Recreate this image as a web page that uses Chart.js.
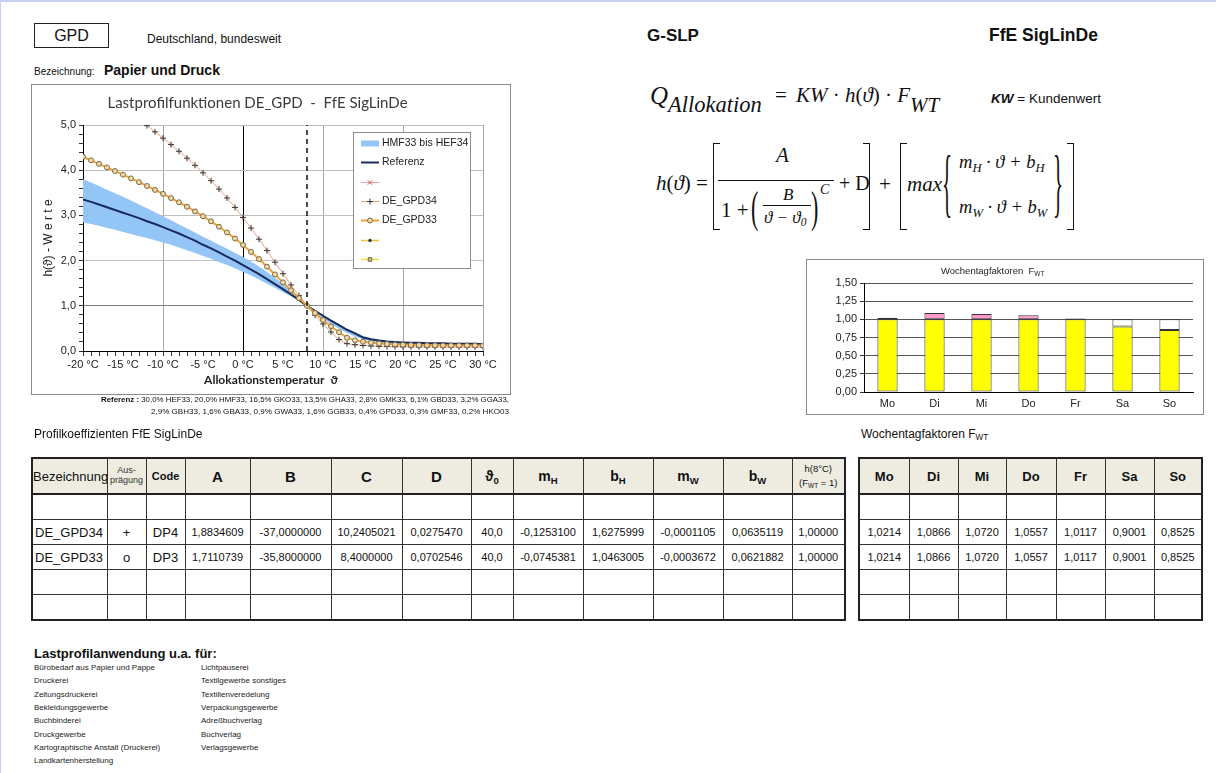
<!DOCTYPE html>
<html lang="de"><head><meta charset="utf-8">
<script src="https://cdn.jsdelivr.net/npm/chart.js@4.4.1/dist/chart.umd.min.js"></script>
<style>
html,body{margin:0;padding:0;background:#fff;}
#page{position:relative;width:1216px;height:773px;overflow:hidden;font-family:'Liberation Sans',Arial,sans-serif;color:#111;box-sizing:border-box;border-top:2px solid #c9d1f2;border-left:1px solid #c9d1f2;}
.t{position:absolute;white-space:nowrap;line-height:1;}
.serif{font-family:'Liberation Serif','Times New Roman',serif;}
.brk{position:absolute;border:1.4px solid #111;box-sizing:border-box;}
sub{font-size:68%;vertical-align:-0.3em;line-height:0;}
table.tb{position:absolute;border-collapse:collapse;table-layout:fixed;border:2px solid #222;}
table.tb td,table.tb th{border:1px solid #333;padding:0;text-align:center;overflow:hidden;white-space:nowrap;color:#111;}
table.tb th{background:#EEECE1;height:34px;border-bottom:2px solid #222;}
table.tb td{height:24px;font-size:11px;}
canvas{position:absolute;}
.box{position:absolute;border:1px solid #8a8a8a;box-sizing:border-box;background:#fff;}
</style></head>
<body><div id="page">

<div class="t" style="left:33px;top:21px;width:75px;height:25px;border:1px solid #222;box-sizing:border-box;font-size:16px;text-align:center;line-height:23px;">GPD</div>
<div class="t" style="left:146px;top:31px;font-size:12px;">Deutschland, bundesweit</div>
<div class="t" style="left:33px;top:65px;font-size:10px;">Bezeichnung:</div>
<div class="t" style="left:103px;top:61px;font-size:14px;font-weight:bold;">Papier und Druck</div>

<div class="t" style="left:646px;top:25px;font-size:17px;font-weight:bold;">G-SLP</div>
<div class="t" style="left:988px;top:25px;font-size:17.5px;font-weight:bold;">FfE SigLinDe</div>

<!-- Q formula -->
<div class="t serif" style="left:649px;top:81px;font-size:25px;font-style:italic;">Q</div>
<div class="t serif" style="left:667px;top:92px;font-size:22.5px;font-style:italic;">Allokation</div>
<div class="t serif" style="left:774px;top:83px;font-size:21px;">=</div>
<div class="t serif" style="left:795px;top:83px;font-size:21px;"><i>KW</i> · <i>h</i>(<i>ϑ</i>) · <i>F</i></div>
<div class="t serif" style="left:909px;top:93px;font-size:21px;font-style:italic;">WT</div>
<div class="t" style="left:990px;top:90px;font-size:13.5px;"><b><i>KW</i></b> = Kundenwert</div>

<!-- h formula -->
<div class="t serif" style="left:655px;top:171px;font-size:21px;"><i>h</i>(<i>ϑ</i>) =</div>
<div class="brk" style="left:712px;top:141px;width:7px;height:87px;border-right:none;"></div>
<div class="t serif" style="left:775px;top:143px;font-size:21px;font-style:italic;">A</div>
<div style="position:absolute;left:717px;top:178px;width:116px;border-top:1.2px solid #111;"></div>
<div class="t serif" style="left:720px;top:198px;font-size:21px;">1 +</div>
<div class="t serif" style="left:750px;top:195px;font-size:22px;transform:scaleY(2);transform-origin:left center;">(</div>
<div class="t serif" style="left:782px;top:184px;font-size:17px;font-style:italic;">B</div>
<div style="position:absolute;left:762px;top:203px;width:48px;border-top:1px solid #111;"></div>
<div class="t serif" style="left:763px;top:207px;font-size:17px;font-style:italic;">ϑ − ϑ<sub>0</sub></div>
<div class="t serif" style="left:810px;top:195px;font-size:22px;transform:scaleY(2);transform-origin:left center;">)</div>
<div class="t serif" style="left:819px;top:181px;font-size:14px;font-style:italic;">C</div>
<div class="t serif" style="left:838px;top:171px;font-size:20px;">+ D</div>
<div class="brk" style="left:862px;top:141px;width:7px;height:87px;border-left:none;"></div>
<div class="t serif" style="left:878px;top:172px;font-size:21px;">+</div>
<div class="brk" style="left:899px;top:141px;width:7px;height:87px;border-right:none;"></div>
<div class="t serif" style="left:906px;top:172px;font-size:21px;font-style:italic;">max</div>
<div class="t serif" style="left:941px;top:172px;font-size:21px;transform:scaleY(3.6);transform-origin:left center;">{</div>
<div class="t serif" style="left:958px;top:151px;font-size:18.5px;font-style:italic;">m<sub>H</sub> · ϑ + b<sub>H</sub></div>
<div class="t serif" style="left:958px;top:196px;font-size:18.5px;font-style:italic;">m<sub>W</sub> · ϑ + b<sub>W</sub></div>
<div class="t serif" style="left:1052px;top:172px;font-size:21px;transform:scaleY(3.6);transform-origin:left center;">}</div>
<div class="brk" style="left:1066px;top:141px;width:7px;height:87px;border-left:none;"></div>

<!-- main chart -->
<div class="box" style="left:30px;top:82px;width:480px;height:311px;"></div>
<canvas id="c1" width="478" height="309" style="left:31px;top:83px;"></canvas>
<div class="t" style="left:30px;width:480px;text-align:center;top:372px;font-family:Lato,sans-serif;font-size:12px;font-weight:bold;color:#222;">Allokationstemperatur&nbsp;&nbsp;ϑ</div>

<div class="t" id="ref1" style="left:100px;top:394px;font-size:8px;"><b>Referenz :</b>&nbsp;30,0% HEF33, 20,0% HMF33, 16,5% GKO33, 13,5% GHA33, 2,8% GMK33, 6,1% GBD33, 3,2% GGA33,</div>
<div class="t" id="ref2" style="left:150px;top:406px;font-size:8px;">2,9% GBH33, 1,6% GBA33, 0,9% GWA33, 1,6% GGB33, 0,4% GPD33, 0,3% GMF33, 0,2% HKO03</div>

<!-- bar chart -->
<div class="box" style="left:805px;top:257px;width:398px;height:156px;"></div>
<canvas id="c2" width="396" height="154" style="left:806px;top:258px;"></canvas>
<div class="t" style="left:940px;top:264px;font-size:9.5px;color:#222;">Wochentagfaktoren&nbsp;&nbsp;F<sub>WT</sub></div>

<div class="t" style="left:33px;top:426px;font-size:12px;">Profilkoeffizienten FfE SigLinDe</div>
<div class="t" style="left:860px;top:426px;font-size:12px;">Wochentagfaktoren F<sub>WT</sub></div>

<table class="tb" id="tbl1" style="left:30px;top:455px;width:813px;"></table>
<table class="tb" id="tbl2" style="left:857px;top:455px;width:343px;"></table>

<div class="t" style="left:33px;top:645px;font-size:13px;font-weight:bold;">Lastprofilanwendung u.a. für:</div>
<div id="list"></div>
</div>

<script>
// ---------------- data ----------------
const temps = [-20,-19,-18,-17,-16,-15,-14,-13,-12,-11,-10,-9,-8,-7,-6,-5,-4,-3,-2,-1,0,1,2,3,4,5,6,7,8,9,10,11,12,13,14,15,16,17,18,19,20,21,22,23,24,25,26,27,28,29,30];
const gpd34 = [6.032,5.904,5.776,5.647,5.517,5.386,5.255,5.121,4.986,4.849,4.709,4.566,4.419,4.266,4.108,3.942,3.767,3.582,3.385,3.177,2.954,2.720,2.474,2.221,1.964,1.709,1.461,1.224,1.000,0.792,0.599,0.420,0.254,0.162,0.139,0.123,0.112,0.104,0.098,0.095,0.092,0.091,0.090,0.089,0.089,0.089,0.088,0.088,0.088,0.088,0.088];
const gpd33 = [4.296,4.219,4.140,4.061,3.981,3.901,3.819,3.736,3.651,3.564,3.476,3.384,3.290,3.192,3.089,2.982,2.869,2.749,2.622,2.488,2.345,2.193,2.033,1.866,1.694,1.519,1.343,1.169,1.000,0.839,0.687,0.546,0.415,0.294,0.236,0.207,0.184,0.167,0.154,0.145,0.138,0.133,0.130,0.127,0.126,0.124,0.124,0.123,0.122,0.122,0.122];
const referenz = [3.35,3.30,3.24,3.18,3.12,3.06,3.00,2.94,2.87,2.81,2.74,2.67,2.60,2.52,2.44,2.35,2.27,2.18,2.09,2.00,1.90,1.80,1.70,1.59,1.48,1.37,1.25,1.13,1.00,0.89,0.78,0.67,0.57,0.47,0.39,0.30,0.26,0.23,0.21,0.20,0.19,0.18,0.18,0.17,0.17,0.17,0.16,0.16,0.16,0.16,0.15];
const bandHigh = [3.80,3.73,3.65,3.57,3.49,3.41,3.33,3.24,3.16,3.07,2.98,2.89,2.80,2.71,2.62,2.53,2.44,2.35,2.26,2.17,2.08,1.98,1.87,1.75,1.62,1.49,1.35,1.18,1.00,0.90,0.80,0.69,0.59,0.49,0.41,0.33,0.28,0.24,0.22,0.20,0.19,0.18,0.18,0.17,0.17,0.17,0.17,0.16,0.16,0.16,0.16];
const bandLow = [2.85,2.81,2.77,2.72,2.68,2.63,2.59,2.54,2.50,2.45,2.40,2.35,2.29,2.23,2.17,2.10,2.04,1.97,1.90,1.83,1.75,1.67,1.58,1.49,1.40,1.30,1.21,1.11,1.00,0.85,0.72,0.60,0.49,0.40,0.32,0.26,0.21,0.18,0.16,0.15,0.14,0.14,0.13,0.13,0.13,0.13,0.12,0.12,0.12,0.12,0.12];
const markerTemp = [8, 8];
const markerH = [0, 5];
const days = ['Mo','Di','Mi','Do','Fr','Sa','So'];
const fwt = [1.0214, 1.0866, 1.0720, 1.0557, 1.0117, 0.9001, 0.8525];

const coefHeader = ['Bezeichnung','Aus-<br>prägung','Code','A','B','C','D','ϑ<sub>0</sub>','m<sub>H</sub>','b<sub>H</sub>','m<sub>W</sub>','b<sub>W</sub>','h(8°C)<br>(F<sub>WT</sub> = 1)'];
const coefRows = [
  ['','','','','','','','','','','','',''],
  ['DE_GPD34','+','DP4','1,8834609','-37,0000000','10,2405021','0,0275470','40,0','-0,1253100','1,6275999','-0,0001105','0,0635119','1,00000'],
  ['DE_GPD33','o','DP3','1,7110739','-35,8000000','8,4000000','0,0702546','40,0','-0,0745381','1,0463005','-0,0003672','0,0621882','1,00000'],
  ['','','','','','','','','','','','',''],
  ['','','','','','','','','','','','','']
];
const useList1 = ['Bürobedarf aus Papier und Pappe','Druckerei','Zeitungsdruckerei','Bekleidungsgewerbe','Buchbinderei','Druckgewerbe','Kartographische Anstalt (Druckerei)','Landkartenherstellung'];
const useList2 = ['Lichtpauserei','Textilgewerbe sonstiges','Textilienveredelung','Verpackungsgewerbe','Adreßbuchverlag','Buchverlag','Verlagsgewerbe'];

// ---------------- tables ----------------
(function(){
  const w1 = [75,39,39,65,81,71,69,42,70,70,70,69,53];
  const hdrStyle = ['font-size:13px;font-weight:normal;','font-size:9px;font-weight:normal;line-height:1.1;color:#333;','font-size:11px;','font-size:15px;','font-size:15px;','font-size:15px;','font-size:15px;','font-size:14px;','font-size:14px;','font-size:14px;','font-size:14px;','font-size:14px;','font-size:9.5px;font-weight:normal;line-height:1.5;'];
  let h = '<colgroup>' + w1.map(w=>`<col style="width:${w}px">`).join('') + '</colgroup>';
  h += '<tr>' + coefHeader.map((c,i)=>`<th style="${hdrStyle[i]}">${c}</th>`).join('') + '</tr>';
  coefRows.forEach(r=>{
    h += '<tr>' + r.map((c,i)=>{
      let st = '';
      if (i===0) st='text-align:left;padding-left:2px;font-size:13px;';
      else if (i<3) st='font-size:13px;';
      return `<td style="${st}">${c}</td>`;
    }).join('') + '</tr>';
  });
  document.getElementById('tbl1').innerHTML = h;

  const fmt = v => v.toFixed(4).replace('.',',');
  let h2 = '<colgroup>' + [50,49,48,50,49,49,48].map(w=>`<col style="width:${w}px">`).join('') + '</colgroup>';
  h2 += '<tr>' + days.map(d=>`<th style="font-size:13px;">${d}</th>`).join('') + '</tr>';
  const rows2 = [null, fwt, fwt, null, null];
  rows2.forEach(r=>{ h2 += '<tr>' + days.map((d,i)=>`<td>${r? fmt(r[i]) : ''}</td>`).join('') + '</tr>'; });
  document.getElementById('tbl2').innerHTML = h2;

  let l = '';
  useList1.forEach((s,i)=>{ l += `<div class="t" style="left:33px;top:662px;transform:translateY(${i*13.3}px);font-size:8px;color:#222;">${s}</div>`; });
  useList2.forEach((s,i)=>{ l += `<div class="t" style="left:200px;top:662px;transform:translateY(${i*13.3}px);font-size:8px;color:#222;">${s}</div>`; });
  document.getElementById('list').innerHTML = l;

  function fit(id, w){ const el=document.getElementById(id); const r=el.getBoundingClientRect().width; el.style.transformOrigin='left center'; el.style.transform=`scaleX(${w/r})`; }
  fit('ref1', 408); fit('ref2', 358);
})();

// ---------------- charts ----------------
Chart.defaults.font.family = "'Liberation Sans', Arial, sans-serif";
Chart.defaults.color = '#222';
const pts = ys => temps.map((t,i)=>({x:t, y:ys[i]}));
const isInt = v => Math.abs(v - Math.round(v)) < 1e-6;

const boxLegend = {
  id: 'boxLegend',
  afterDraw(chart, args, opts) {
    const ctx = chart.ctx;
    const x0 = 321, y0 = 47, w = 117, h = 136;
    ctx.save();
    ctx.fillStyle = '#fff'; ctx.fillRect(x0, y0, w, h);
    ctx.strokeStyle = '#8c8c8c'; ctx.lineWidth = 1; ctx.strokeRect(x0 + 0.5, y0 + 0.5, w, h);
    opts.items.forEach((idx, i) => {
      const ds = chart.data.datasets[idx];
      const y = Math.round(y0 + 11 + i * 19.3) + 0.5;
      ctx.setLineDash([]);
      ctx.strokeStyle = ds.legendColor || ds.borderColor;
      ctx.lineWidth = ds.legendWidth || ds.borderWidth;
      ctx.beginPath(); ctx.moveTo(x0 + 8, y); ctx.lineTo(x0 + 26, y); ctx.stroke();
      if (ds.pointStyle && ds.pointRadius > 0) {
        ctx.strokeStyle = ds.pointBorderColor; ctx.fillStyle = ds.pointBackgroundColor || ds.pointBorderColor;
        ctx.lineWidth = ds.pointBorderWidth || 1;
        Chart.helpers.drawPoint(ctx, {pointStyle: ds.pointStyle, radius: ds.pointRadius, borderWidth: ds.pointBorderWidth || 1, rotation: 0}, x0 + 17, y);
      }
      if (ds.label) {
        ctx.fillStyle = '#222'; ctx.font = "10.5px 'Liberation Sans', Arial, sans-serif"; ctx.textBaseline = 'middle';
        ctx.fillText(ds.label, x0 + 29, y);
      }
    });
    ctx.restore();
  }
};

new Chart(document.getElementById('c1'), {
  type: 'line',
  data: { datasets: [
    {label:'', data: pts(bandLow), borderWidth:0, borderColor:'rgba(0,0,0,0)', pointRadius:0, fill:false, order:10},
    {label:'HMF33 bis HEF34', data: pts(bandHigh), borderWidth:0, borderColor:'rgba(0,0,0,0)', backgroundColor:'#93C6F6', legendColor:'#93C6F6', legendWidth:6, pointRadius:0, fill:'-1', order:10},
    {label:'Referenz', data: pts(referenz), borderColor:'#1B2A5E', borderWidth:2, pointRadius:0, fill:false, order:5, tension:0},
    {label:'', data: [], borderColor:'#E8A3A3', borderWidth:1, pointStyle:'crossRot', pointRadius:3, pointBorderColor:'#C0504D', pointBorderWidth:1, order:9},
    {label:'DE_GPD34', data: pts(gpd34), borderColor:'#EDA07E', borderWidth:1, pointStyle:'cross', pointRadius:3, pointBorderColor:'#333', pointBorderWidth:1, fill:false, order:3},
    {label:'DE_GPD33', data: pts(gpd33), borderColor:'#F2A12E', borderWidth:2, pointStyle:'circle', pointRadius:2.5, pointBorderColor:'#7a6a48', pointBackgroundColor:'#EFD7A4', pointBorderWidth:1, fill:false, order:2},
    {label:'', data: [], borderColor:'#F5C242', borderWidth:1.5, pointStyle:'circle', pointRadius:1.3, pointBorderColor:'#333', pointBackgroundColor:'#333', order:9},
    {label:'', data: [], borderColor:'#F7DC3C', borderWidth:1.5, pointStyle:'rect', pointRadius:2.5, pointBorderColor:'#6b6b4a', pointBackgroundColor:'#c9c37a', order:9},
    {label:'', data: markerTemp.map((t,i)=>({x:t, y:markerH[i]})), borderColor:'#111', borderWidth:1.5, borderDash:[5,4], pointRadius:0, order:1}
  ]},
  options: {
    responsive:false, animation:false, devicePixelRatio:1, events:[],
    layout:{padding:{top:0,right:27,bottom:0,left:0}},
    plugins:{
      legend:{display:false}, tooltip:{enabled:false},
      title:{display:true, text:'Lastprofilfunktionen DE_GPD  -  FfE SigLinDe', color:'#3a3a3a', font:{family:'Lato', size:15, weight:'normal'}, padding:{top:9,bottom:13}},
      boxLegend:{items:[1,2,3,4,5,6,7]}
    },
    scales:{
      x:{type:'linear', min:-20, max:30,
        afterFit(s){ s.height = 43; },
        border:{color:'#000', width:1},
        grid:{ color: c => { const v = c.tick.value; if (v === 0) return '#000'; if (v % 10 === 0 && v !== -20) return '#a6a6a6'; return 'rgba(0,0,0,0)'; }, tickColor:'#333', tickLength:5 },
        ticks:{ stepSize:1, autoSkip:false, maxRotation:0, padding:2, color:'#222', font:{size:11}, callback: v => (v % 5 === 0 ? v + ' °C' : '') }
      },
      y:{min:0, max:5,
        afterFit(s){ s.width = 51; },
        border:{color:'#000', width:1},
        grid:{ color: c => { const v = c.tick.value; if (!isInt(v) || Math.round(v) === 0) return 'rgba(0,0,0,0)'; return Math.round(v) === 1 ? '#7f7f7f' : '#bfbfbf'; }, tickColor:'#333', tickLength:4 },
        ticks:{ stepSize:0.2, autoSkip:false, padding:3, color:'#222', font:{size:11}, callback: v => (isInt(v) ? Math.round(v).toFixed(1).replace('.', ',') : '') },
        title:{display:true, text:'h(ϑ) - W e r t e', color:'#222', font:{size:12}, padding:{top:9,bottom:0}}
      }
    }
  },
  plugins:[boxLegend]
});

const fwtBase = fwt.map(v => Math.min(v, 1));
const fwtOver = fwt.map(v => (v > 1 ? v - 1 : null));
const fwtUnder = fwt.map(v => (v < 1 ? 1 - v : null));
new Chart(document.getElementById('c2'), {
  type:'bar',
  data:{ labels: days, datasets:[
    {data: fwtBase, backgroundColor:'#FFFF00', borderColor:'#333', borderWidth:1, borderSkipped:false},
    {data: fwtOver, backgroundColor:'#FF99CC', borderColor:'#333', borderWidth:1, borderSkipped:false},
    {data: fwtUnder, backgroundColor:'#FFFFFF', borderColor:'#333', borderWidth:1, borderSkipped:false}
  ]},
  options:{
    responsive:false, animation:false, devicePixelRatio:1, events:[],
    layout:{padding:{top:23,right:10,bottom:0,left:0}},
    categoryPercentage:1, barPercentage:0.43,
    plugins:{legend:{display:false}, tooltip:{enabled:false}},
    scales:{
      x:{stacked:true, afterFit(s){ s.height = 22; }, border:{color:'#000'}, grid:{display:false, drawTicks:false}, ticks:{padding:5, color:'#222', font:{size:11}}},
      y:{stacked:true, min:0, max:1.5, afterFit(s){ s.width = 57; }, border:{color:'#000'},
        grid:{color:'#555', tickColor:'#333', tickLength:4},
        ticks:{stepSize:0.25, padding:3, color:'#222', font:{size:11}, callback: v => v.toFixed(2).replace('.', ',')}}
    }
  }
});
</script>
</body></html>
